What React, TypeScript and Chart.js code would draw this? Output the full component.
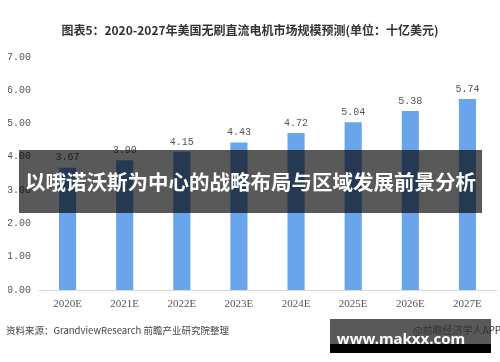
import React, { useEffect, useRef } from "react";
import { Chart, registerables } from "chart.js";

Chart.register(...registerables);

const categories = ["2020E", "2021E", "2022E", "2023E", "2024E", "2025E", "2026E", "2027E"];
const values = [3.67, 3.9, 4.15, 4.43, 4.72, 5.04, 5.38, 5.74];
const yTicks = [0, 1, 2, 3, 4, 5, 6, 7];
const titleText = "图表5：2020-2027年美国无刷直流电机市场规模预测(单位：十亿美元)";
const sourceText = "资料来源：GrandviewResearch 前瞻产业研究院整理";
const bannerText = "以哦诺沃斯为中心的战略布局与区域发展前景分析";
const siteText = "www.makxx.com";
const appText = "@前瞻经济学人APP";

const valueLabelPlugin = {
  id: "valueLabels",
  afterDatasetsDraw(chart: any) {
    const ctx = chart.ctx;
    const meta = chart.getDatasetMeta(0);
    ctx.save();
    ctx.font = "10px 'Liberation Mono'";
    ctx.fillStyle = "#555555";
    ctx.textAlign = "center";
    ctx.textBaseline = "bottom";
    meta.data.forEach((bar: any, i: number) => {
      ctx.fillText(values[i].toFixed(2), bar.x, bar.y - 5);
    });
    ctx.restore();
  },
};

export default function App() {
  const ref = useRef<HTMLCanvasElement | null>(null);

  useEffect(() => {
    document.body.style.margin = "0";
    const chart = new Chart(ref.current as HTMLCanvasElement, {
      type: "bar",
      data: {
        labels: categories,
        datasets: [
          {
            data: values,
            backgroundColor: "#6aa5ec",
            borderWidth: 0,
            categoryPercentage: 1,
            barPercentage: 0.3,
          },
        ],
      },
      options: {
        animation: false,
        responsive: false,
        layout: { padding: { top: 57, left: 8, right: 4, bottom: 52 } },
        plugins: { legend: { display: false }, tooltip: { enabled: false }, title: { display: false } },
        scales: {
          x: {
            grid: { display: false, drawTicks: false },
            border: { display: true, color: "#d9d9d9", width: 1 },
            ticks: { color: "#555555", font: { family: "'Liberation Serif'", size: 11 }, padding: 8 },
            afterFit: (s: any) => {
              s.height = 20;
            },
          },
          y: {
            min: 0,
            max: 7,
            afterBuildTicks: (s: any) => {
              s.ticks = yTicks.map((v) => ({ value: v }));
            },
            grid: { display: false, drawTicks: false },
            border: { display: false },
            ticks: {
              color: "#555555",
              font: { family: "'Liberation Mono'", size: 10 },
              padding: 8,
              callback: (v: any) => Number(v).toFixed(2),
            },
            afterFit: (s: any) => {
              s.width = 31;
            },
          },
        },
      },
      plugins: [valueLabelPlugin],
    });
    return () => chart.destroy();
  }, []);

  return (
    <div style={{ position: "relative", width: 500, height: 362, background: "#fff", overflow: "hidden" }}>
      <canvas ref={ref} width={500} height={362} style={{ position: "absolute", left: 0, top: 0 }} />
      <div
        style={{
          position: "absolute",
          left: 0,
          width: 500,
          top: 21,
          textAlign: "center",
          font: "bold 12px 'Noto Sans CJK SC'",
          color: "#333",
          lineHeight: "18px",
        }}
      >
        {titleText}
      </div>
      <div
        style={{
          position: "absolute",
          left: 6,
          top: 322,
          font: "9.5px 'Noto Sans CJK SC'",
          color: "#444",
          lineHeight: "16px",
          whiteSpace: "nowrap",
        }}
      >
        {sourceText}
      </div>
      <div
        style={{
          position: "absolute",
          left: 19,
          top: 150,
          width: 463,
          height: 63,
          background: "rgba(0,0,0,0.65)",
          color: "#fff",
          font: "bold 20.5px 'Noto Sans CJK SC'",
          lineHeight: "63px",
          textAlign: "center",
          whiteSpace: "nowrap",
        }}
      >
        {bannerText}
      </div>
      <div
        style={{
          position: "absolute",
          left: 330,
          top: 319,
          width: 161,
          height: 25,
          background: "rgba(0,0,0,0.65)",
        }}
      />
      <div
        style={{
          position: "absolute",
          left: 330,
          top: 344,
          width: 161,
          height: 9,
          background: "#000",
        }}
      />
      <div
        style={{
          position: "absolute",
          left: 413,
          top: 322,
          font: "10px 'Noto Sans CJK SC'",
          color: "#333",
          lineHeight: "16px",
          whiteSpace: "nowrap",
        }}
      >
        {appText}
      </div>
      <div
        style={{
          position: "absolute",
          left: 321,
          top: 326,
          width: 160,
          textAlign: "center",
          font: "bold 15px 'Noto Sans'",
          color: "#fff",
          lineHeight: "24px",
          whiteSpace: "nowrap",
        }}
      >
        {siteText}
      </div>
    </div>
  );
}
